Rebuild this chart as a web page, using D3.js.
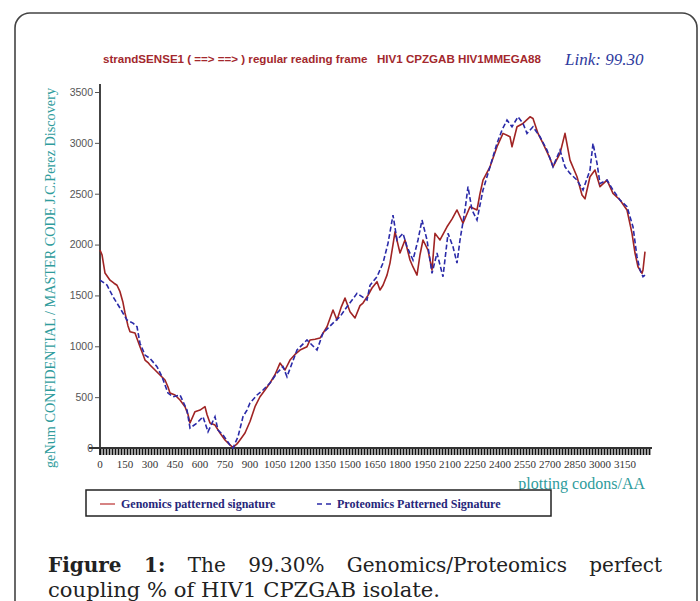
<!DOCTYPE html>
<html>
<head>
<meta charset="utf-8">
<script src="https://cdn.jsdelivr.net/npm/d3@7"></script>
<style>
  body { margin: 0; background: #fff; }
  svg { display: block; }
</style>
</head>
<body>
<svg id="chart" width="700" height="601"></svg>
<script>
// codon positions and values
const genomicsCodons = [0,12,30,60,84,102,120,138,150,168,180,210,240,258,270,288,300,330,360,390,408,420,450,480,510,528,540,570,600,630,642,660,690,720,750,780,798,822,840,870,900,930,960,990,1020,1050,1080,1110,1140,1170,1200,1242,1260,1290,1320,1362,1398,1422,1446,1470,1500,1530,1560,1578,1608,1632,1662,1680,1698,1722,1740,1758,1770,1788,1800,1830,1860,1878,1902,1920,1938,1968,1992,2010,2040,2082,2112,2142,2178,2220,2262,2280,2298,2340,2382,2418,2460,2472,2502,2538,2580,2598,2628,2658,2700,2718,2760,2790,2820,2862,2892,2910,2940,2970,3000,3042,3078,3120,3162,3192,3210,3228,3252,3258,3270];
const genomicsValues = [1946,1900,1720,1650,1620,1600,1537,1430,1327,1200,1143,1130,996,920,865,840,816,767,718,668,600,540,521,472,406,330,246,357,373,406,330,246,226,147,79,30,5,40,79,147,260,406,504,570,639,720,835,767,865,920,963,996,1062,1070,1081,1192,1357,1258,1380,1474,1340,1278,1400,1425,1500,1573,1635,1553,1600,1700,1818,2000,2126,2000,1917,2045,1848,1780,1700,1900,2045,1946,1750,2110,2045,2175,2250,2340,2210,2372,2340,2500,2634,2765,2962,3093,3060,2962,3158,3191,3256,3240,3093,2995,2848,2765,2896,3093,2830,2667,2487,2450,2667,2733,2569,2634,2504,2438,2340,2110,1917,1782,1717,1750,1930];

const proteomicsCodons = [0,42,78,120,162,198,222,240,270,300,342,372,408,438,480,522,540,582,618,648,690,708,738,780,798,828,858,882,900,942,978,1020,1062,1098,1122,1182,1242,1302,1338,1398,1440,1482,1542,1602,1620,1662,1698,1728,1758,1782,1818,1842,1878,1908,1932,1962,1992,2022,2058,2088,2118,2142,2160,2190,2208,2232,2262,2298,2340,2382,2412,2442,2472,2508,2538,2562,2598,2640,2682,2718,2760,2790,2820,2862,2898,2940,2958,2982,3000,3042,3078,3120,3162,3198,3222,3240,3258,3270];
const proteomicsValues = [1651,1602,1487,1376,1258,1228,1192,1030,914,880,800,701,540,504,521,373,196,246,308,160,308,177,128,30,0,111,308,373,442,521,570,639,737,800,701,963,1062,963,1130,1228,1291,1389,1520,1455,1600,1684,1818,2012,2290,2045,2110,1979,1848,2045,2241,2045,1717,1917,1684,2110,1979,1818,2045,2340,2569,2340,2241,2536,2765,2995,3126,3224,3158,3256,3191,3093,3158,3060,2929,2765,2929,2765,2700,2634,2536,2733,2995,2800,2600,2634,2536,2438,2372,2175,1881,1750,1684,1700];

const xTickLabels = d3.range(0, 3151, 150);
const yTickLabels = [0, 500, 1000, 1500, 2000, 2500, 3000, 3500];

const svg = d3.select("#chart");
const serif = "Liberation Serif, Times New Roman, serif";

// outer rounded frame
svg.append("rect")
  .attr("x", 15).attr("y", 13)
  .attr("width", 682).attr("height", 610)
  .attr("rx", 15)
  .attr("fill", "none")
  .attr("stroke", "#444")
  .attr("stroke-width", 1.6);

const x = d3.scaleLinear().domain([0, 3312]).range([100, 652]);
const y = d3.scaleLinear().domain([0, 3500]).range([448, 92]);

// title
svg.append("text")
  .attr("x", 103).attr("y", 63)
  .attr("font-family", "Liberation Sans, Arial, sans-serif")
  .attr("font-weight", "bold")
  .attr("font-size", 10.5)
  .attr("fill", "#a3282d")
  .attr("textLength", 438)
  .attr("lengthAdjust", "spacingAndGlyphs")
  .attr("xml:space", "preserve")
  .text("strandSENSE1 ( ==> ==> ) regular reading frame   HIV1 CPZGAB HIV1MMEGA88");

svg.append("text")
  .attr("x", 565).attr("y", 65)
  .attr("font-family", serif)
  .attr("font-style", "italic")
  .attr("font-size", 17)
  .attr("fill", "#2e3a9e")
  .text("Link: 99.30");

// y axis
const yAxis = svg.append("g")
  .attr("transform", "translate(100,0)")
  .call(d3.axisLeft(y).tickValues(yTickLabels).tickSize(5).tickPadding(2).tickFormat(d3.format("d")));
yAxis.select(".domain").remove();
yAxis.selectAll(".tick line").attr("stroke", "#555");
yAxis.selectAll(".tick text")
  .attr("font-family", "Liberation Sans, Arial, sans-serif")
  .attr("font-size", 10.5)
  .attr("fill", "#555");
svg.append("line")
  .attr("x1", 100).attr("x2", 100)
  .attr("y1", 84).attr("y2", 455)
  .attr("stroke", "#444").attr("stroke-width", 2);

// x axis: dense tick band + labels
const xAxis = svg.append("g")
  .attr("transform", "translate(0,448)")
  .call(d3.axisBottom(x).tickValues(d3.range(0, 3312, 18)).tickSize(7).tickFormat(""));
xAxis.select(".domain").remove();
xAxis.selectAll(".tick line").attr("stroke", "#111").attr("stroke-width", 1.8);
svg.append("line")
  .attr("x1", 89).attr("x2", 652)
  .attr("y1", 448).attr("y2", 448)
  .attr("stroke", "#333").attr("stroke-width", 2.2);

svg.append("g").selectAll("text")
  .data(xTickLabels)
  .join("text")
  .attr("x", d => x(d))
  .attr("y", 468)
  .attr("text-anchor", "middle")
  .attr("font-family", serif)
  .attr("font-size", 11)
  .attr("fill", "#333")
  .text(d => d);

// axis titles
svg.append("text")
  .attr("transform", "translate(55,278) rotate(-90)")
  .attr("text-anchor", "middle")
  .attr("font-family", serif)
  .attr("font-size", 15)
  .attr("fill", "#2f9c9c")
  .attr("textLength", 380)
  .attr("lengthAdjust", "spacingAndGlyphs")
  .text("geNum CONFIDENTIAL / MASTER CODE J.C.Perez Discovery");

svg.append("text")
  .attr("x", 645).attr("y", 489)
  .attr("text-anchor", "end")
  .attr("font-family", serif)
  .attr("font-size", 16)
  .attr("fill", "#2f9c9c")
  .text("plotting codons/AA");

// series
const line = d3.line().x(d => x(d[0])).y(d => y(d[1]));
const genomics = genomicsCodons.map((c, i) => [c, genomicsValues[i]]);
const proteomics = proteomicsCodons.map((c, i) => [c, proteomicsValues[i]]);

svg.append("path")
  .datum(genomics)
  .attr("d", line)
  .attr("fill", "none")
  .attr("stroke", "#a02424")
  .attr("stroke-width", 1.6)
  .attr("stroke-linejoin", "round");

svg.append("path")
  .datum(proteomics)
  .attr("d", line)
  .attr("fill", "none")
  .attr("stroke", "#2a2aa8")
  .attr("stroke-width", 1.6)
  .attr("stroke-dasharray", "5,2.5");

// legend
const legend = svg.append("g");
legend.append("rect")
  .attr("x", 86).attr("y", 490)
  .attr("width", 465).attr("height", 26)
  .attr("fill", "#fff")
  .attr("stroke", "#222")
  .attr("stroke-width", 1.5);
legend.append("line")
  .attr("x1", 100).attr("x2", 115).attr("y1", 504).attr("y2", 504)
  .attr("stroke", "#c04040").attr("stroke-width", 1.3);
legend.append("text")
  .attr("x", 121).attr("y", 508)
  .attr("font-family", serif)
  .attr("font-weight", "bold")
  .attr("font-size", 12)
  .attr("fill", "#26267a")
  .text("Genomics patterned signature");
legend.append("line")
  .attr("x1", 317).attr("x2", 333).attr("y1", 504).attr("y2", 504)
  .attr("stroke", "#2a2aa8").attr("stroke-width", 1.3)
  .attr("stroke-dasharray", "5,4");
legend.append("text")
  .attr("x", 337).attr("y", 508)
  .attr("font-family", serif)
  .attr("font-weight", "bold")
  .attr("font-size", 12)
  .attr("fill", "#26267a")
  .text("Proteomics Patterned Signature");

// caption, line 1 justified between 48 and 662
const capFont = "DejaVu Serif, serif";
const capSize = 20;
const words = [["Figure", true], ["1:", true], ["The", false], ["99.30%", false], ["Genomics/Proteomics", false], ["perfect", false]];
const tmp = svg.append("g");
const widths = words.map(w => {
  const t = tmp.append("text")
    .attr("font-family", capFont)
    .attr("font-size", capSize)
    .attr("font-weight", w[1] ? "bold" : "normal")
    .text(w[0]);
  return t.node().getComputedTextLength();
});
tmp.remove();
const gap = (662 - 48 - d3.sum(widths)) / (words.length - 1);
const cap1 = svg.append("text")
  .attr("y", 572)
  .attr("font-family", capFont)
  .attr("font-size", capSize)
  .attr("fill", "#222");
let cx = 48;
words.forEach((w, i) => {
  cap1.append("tspan")
    .attr("x", cx)
    .attr("font-weight", w[1] ? "bold" : "normal")
    .text(w[0]);
  cx += widths[i] + gap;
});

svg.append("text")
  .attr("x", 48).attr("y", 597)
  .attr("font-family", capFont)
  .attr("font-size", capSize)
  .attr("fill", "#222")
  .attr("textLength", 392)
  .attr("lengthAdjust", "spacingAndGlyphs")
  .text("coupling % of HIV1 CPZGAB isolate.");
</script>
</body>
</html>
